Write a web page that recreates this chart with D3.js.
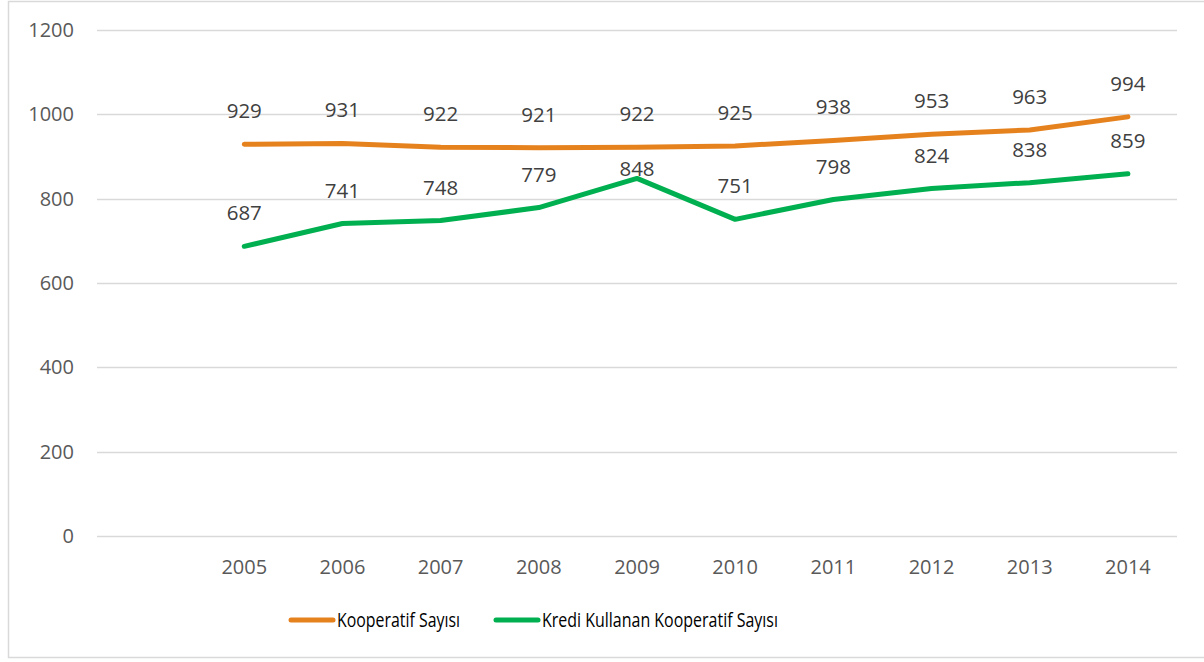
<!DOCTYPE html>
<html>
<head>
<meta charset="utf-8">
<script src="https://cdn.jsdelivr.net/npm/d3@7"></script>
<style>
  body { margin: 0; background: #fff; }
  svg { display: block; font-family: "Open Sans", sans-serif; }
</style>
</head>
<body>
<svg id="chart" width="1204" height="662"></svg>
<script>
// data
const categories = ["", "2005", "2006", "2007", "2008", "2009", "2010", "2011", "2012", "2013", "2014"];
const years = ["2005", "2006", "2007", "2008", "2009", "2010", "2011", "2012", "2013", "2014"];
const kooperatif = [929, 931, 922, 921, 922, 925, 938, 953, 963, 994];
const krediKullanan = [687, 741, 748, 779, 848, 751, 798, 824, 838, 859];
const yTicks = [0, 200, 400, 600, 800, 1000, 1200];
const seriesNames = ["Kooperatif Sayısı", "Kredi Kullanan Kooperatif Sayısı"];
const seriesColors = ["#E6821E", "#00B050"];

const svg = d3.select("#chart");

// outer frame
svg.append("rect")
  .attr("x", 8.5).attr("y", 1.5)
  .attr("width", 1210).attr("height", 656)
  .attr("fill", "none")
  .attr("stroke", "#d9d9d9")
  .attr("stroke-width", 1.5);

const plot = { left: 97, right: 1177, top: 30, bottom: 536 };

const x = d3.scaleBand()
  .domain(categories)
  .range([plot.left, plot.right]);

const y = d3.scaleLinear()
  .domain([0, 1200])
  .range([plot.bottom, plot.top]);

// gridlines
svg.append("g")
  .selectAll("line")
  .data(yTicks)
  .join("line")
  .attr("x1", plot.left).attr("x2", plot.right)
  .attr("y1", d => Math.round(y(d)) + 0.5)
  .attr("y2", d => Math.round(y(d)) + 0.5)
  .attr("stroke", "#d9d9d9")
  .attr("stroke-width", 1.3);

// y tick labels
svg.append("g")
  .selectAll("text")
  .data(yTicks)
  .join("text")
  .attr("x", 74)
  .attr("y", d => y(d) + 7)
  .attr("text-anchor", "end")
  .attr("font-size", 20)
  .attr("fill", "#595959")
  .text(d => d);

// x labels
svg.append("g")
  .selectAll("text")
  .data(years)
  .join("text")
  .attr("x", d => x(d) + x.bandwidth() / 2)
  .attr("y", 574)
  .attr("text-anchor", "middle")
  .attr("font-size", 20)
  .attr("fill", "#595959")
  .text(d => d);

const line = d3.line()
  .x((d, i) => x(years[i]) + x.bandwidth() / 2)
  .y(d => y(d));

// Excel nudged the 2009 green label down onto its point
const labelOffset = (s, i) => (s === 1 && i === 4) ? -2 : -26;

[kooperatif, krediKullanan].forEach((vals, s) => {
  svg.append("path")
    .datum(vals)
    .attr("d", line)
    .attr("fill", "none")
    .attr("stroke", seriesColors[s])
    .attr("stroke-width", 5)
    .attr("stroke-linecap", "round")
    .attr("stroke-linejoin", "round");

  svg.append("g")
    .selectAll("text")
    .data(vals)
    .join("text")
    .attr("x", (d, i) => x(years[i]) + x.bandwidth() / 2)
    .attr("y", (d, i) => y(d) + labelOffset(s, i))
    .attr("text-anchor", "middle")
    .attr("font-size", 20.5)
    .attr("fill", "#404040")
    .text(d => d);
});

// legend
const legendX = [291, 496];
const legendTextLen = [123, 236];
seriesNames.forEach((name, s) => {
  const g = svg.append("g").attr("transform", `translate(${legendX[s]},620)`);
  g.append("line")
    .attr("x1", 0).attr("x2", 42)
    .attr("stroke", seriesColors[s])
    .attr("stroke-width", 5)
    .attr("stroke-linecap", "round");
  g.append("text")
    .attr("x", 46)
    .attr("y", 7)
    .attr("font-size", 20.5)
    .attr("fill", "#000")
    .attr("textLength", legendTextLen[s])
    .attr("lengthAdjust", "spacingAndGlyphs")
    .text(name);
});
</script>
</body>
</html>
